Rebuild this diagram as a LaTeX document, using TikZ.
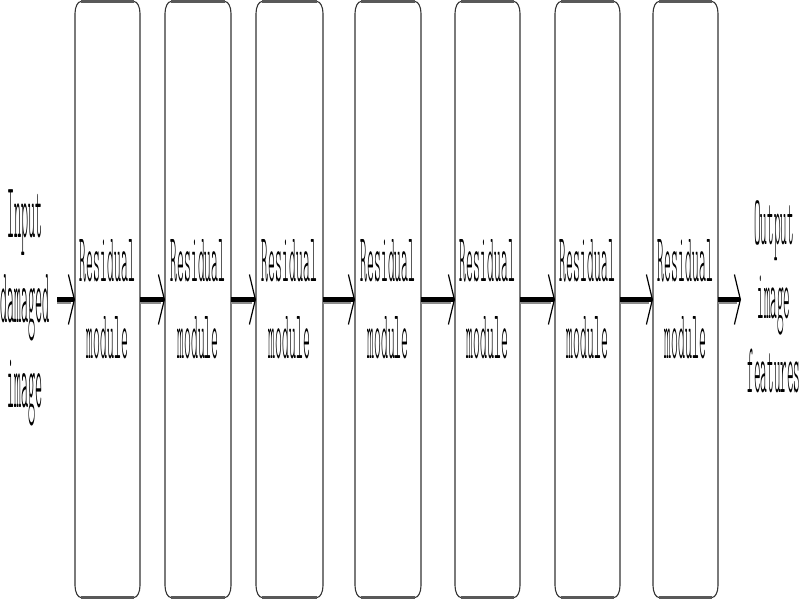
\documentclass[tikz,border=0pt]{standalone}
\usepackage{fontspec}
\usepackage{graphicx}
\setmonofont{lmmonolt10-regular.otf}
\usetikzlibrary{arrows.meta}
\newcommand\stretchtext[4]{\scalebox{1}[#1]{\ttfamily\fontsize{#2}{#3}\selectfont\begin{tabular}{@{}c@{}}#4\end{tabular}}}
\newcommand\boxtext{\stretchtext{5.25}{13.1}{14.5}{Residual\\module}}
\newcommand\outlinebox[1]{%
  \draw[boxside] ([yshift=-12pt]#1.north west) -- ([yshift=12pt]#1.south west)
    arc[start angle=180,end angle=270,x radius=6pt,y radius=12pt]
    -- ([xshift=-6pt]#1.south east)
    arc[start angle=270,end angle=360,x radius=6pt,y radius=12pt]
    -- ([yshift=-12pt]#1.north east)
    arc[start angle=0,end angle=90,x radius=6pt,y radius=12pt]
    -- ([xshift=6pt]#1.north west)
    arc[start angle=90,end angle=180,x radius=6pt,y radius=12pt] -- cycle;
  \draw[boxedge] ([xshift=6pt]#1.north west) -- ([xshift=-6pt]#1.north east);
  \draw[boxedge] ([xshift=6pt]#1.south west) -- ([xshift=-6pt]#1.south east);
}
\tikzset{
  box/.style={rectangle, draw=none, inner sep=0pt, outer sep=0pt, minimum height=596pt,
    label={[txt, yshift=-5.3pt]center:\boxtext}},
  boxside/.style={draw=black!80, line width=1.1pt},
  boxedge/.style={draw=black!65, line width=3pt},
  flow/.style={line width=5pt, black, -{Straight Barb[length=6pt,width=50pt,line width=1.2pt 0]}},
  flowshadow/.style={line width=3pt, black!45},
  txt/.style={inner sep=0pt, outer sep=0pt},
}
\begin{document}
\begin{tikzpicture}[x=1pt,y=1pt]
\useasboundingbox (0,0) rectangle (800,600);
\fill[white] (0,0) rectangle (800,600);
% boxes
\node[box, minimum width=65pt] (b1) at (107.5,300.5) {};
\node[box, minimum width=66pt] (b2) at (198,300.5) {};
\node[box, minimum width=67pt] (b3) at (289.5,300.5) {};
\node[box, minimum width=66pt] (b4) at (388,300.5) {};
\node[box, minimum width=65pt] (b5) at (487.5,300.5) {};
\node[box, minimum width=65pt] (b6) at (587.5,300.5) {};
\node[box, minimum width=65pt] (b7) at (685.5,300.5) {};
\foreach \b in {b1,b2,b3,b4,b5,b6,b7}{\outlinebox{\b}}
% side labels
\node[txt] (in) at (25,294.5) {\stretchtext{5.8}{13.5}{14.65}{Input\\damaged\\image}};
\node[txt] (out) at (774,296) {\stretchtext{5.6}{12.6}{13.2}{Output\\image\\features}};
\coordinate (s0) at (57,300.5);
\coordinate (e0) at (741,300.5);
% shadows of the shafts
\draw[flowshadow] ([yshift=-3pt]s0) -- ([yshift=-3pt,xshift=-4pt]b1.west);
\draw[flowshadow] ([yshift=-3pt]b1.east) -- ([yshift=-3pt,xshift=-4pt]b2.west);
\draw[flowshadow] ([yshift=-3pt]b2.east) -- ([yshift=-3pt,xshift=-4pt]b3.west);
\draw[flowshadow] ([yshift=-3pt]b3.east) -- ([yshift=-3pt,xshift=-4pt]b4.west);
\draw[flowshadow] ([yshift=-3pt]b4.east) -- ([yshift=-3pt,xshift=-4pt]b5.west);
\draw[flowshadow] ([yshift=-3pt]b5.east) -- ([yshift=-3pt,xshift=-4pt]b6.west);
\draw[flowshadow] ([yshift=-3pt]b6.east) -- ([yshift=-3pt,xshift=-4pt]b7.west);
\draw[flowshadow] ([yshift=-3pt]b7.east) -- ([yshift=-3pt,xshift=-4pt]e0);
% arrows
\draw[flow] (s0) -- (b1.west);
\draw[flow] (b1.east) -- (b2.west);
\draw[flow] (b2.east) -- (b3.west);
\draw[flow] (b3.east) -- (b4.west);
\draw[flow] (b4.east) -- (b5.west);
\draw[flow] (b5.east) -- (b6.west);
\draw[flow] (b6.east) -- (b7.west);
\draw[flow] (b7.east) -- (e0);
\end{tikzpicture}
\end{document}
